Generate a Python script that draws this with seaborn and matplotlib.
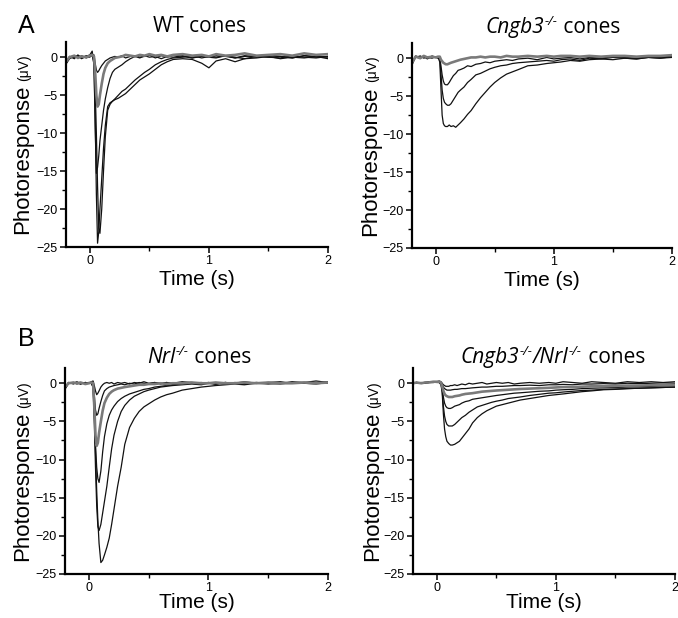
import numpy as np
import pandas as pd
import matplotlib
matplotlib.use("Agg")
import matplotlib.pyplot as plt
import matplotlib.transforms as mtransforms
from matplotlib.ticker import MultipleLocator
import seaborn as sns

# ---------------- data (time in s, photoresponse in µV) ----------------
t = [-0.2, -0.17, -0.13, -0.1, -0.07, -0.03, 0.0, 0.02,
     0.035, 0.045, 0.055, 0.065, 0.075, 0.085, 0.1, 0.115,
     0.13, 0.15, 0.17, 0.19, 0.21, 0.24, 0.27, 0.3,
     0.34, 0.38, 0.42, 0.46, 0.5, 0.55, 0.6, 0.65,
     0.7, 0.78, 0.86, 0.94, 1.0, 1.06, 1.14, 1.22,
     1.3, 1.4, 1.5, 1.6, 1.7, 1.8, 1.9, 2.0]

# WT cones
wt_1 = [-0.8, 0.1, -0.2, 0.3, -0.1, 0.2, 0.0, 0.4,
        0.3, -0.8, -1.7, -2.0, -1.8, -1.5, -1.1, -0.8,
        -0.5, -0.3, -0.1, 0.0, 0.1, 0.0, 0.2, -0.1,
        0.1, 0.2, 0.0, 0.1, 0.3, -0.1, 0.2, 0.0,
        0.3, 0.1, -0.1, 0.2, 0.0, 0.2, 0.1, -0.1,
        0.2, 0.0, 0.3, 0.1, -0.1, 0.2, 0.0, 0.1]
wt_2 = [-0.6, 0.0, 0.2, -0.1, 0.1, 0.0, 0.2, 0.3,
        0.1, -2.0, -5.0, -6.5, -6.2, -5.0, -3.5, -2.2,
        -1.4, -0.8, -0.5, -0.3, -0.1, 0.0, 0.1, 0.3,
        0.2, 0.1, 0.3, 0.2, 0.4, 0.2, 0.3, 0.1,
        0.3, 0.4, 0.2, 0.3, 0.1, 0.4, 0.2, 0.3,
        0.5, 0.2, 0.3, 0.4, 0.2, 0.5, 0.3, 0.4]
wt_3 = [-0.9, -0.2, 0.1, 0.2, -0.2, 0.1, 0.3, 0.8,
        -1.0, -9.0, -15.3, -14.5, -13.0, -11.0, -9.0, -7.0,
        -5.5, -4.0, -2.8, -2.0, -1.6, -1.3, -1.0, -0.6,
        -0.2, 0.1, -0.1, 0.2, 0.0, 0.1, -0.2, 0.1,
        0.0, 0.2, -0.1, 0.1, 0.0, -0.1, 0.2, 0.0,
        -0.2, 0.1, 0.0, -0.1, 0.2, 0.0, -0.1, 0.1]
wt_4 = [-0.7, 0.0, 0.2, -0.1, 0.2, -0.1, 0.1, 0.2,
        -0.5, -4.0, -10.0, -17.0, -22.5, -23.2, -20.0, -15.0,
        -10.5, -7.0, -6.2, -5.8, -5.5, -5.0, -4.5, -4.2,
        -3.6, -3.0, -2.5, -2.0, -1.6, -1.0, -0.6, -0.3,
        -0.1, 0.0, 0.2, -0.1, 0.1, 0.0, 0.2, -0.1,
        0.1, 0.2, 0.0, 0.1, -0.1, 0.2, 0.1, 0.0]
wt_5 = [-0.9, 0.1, -0.1, 0.2, 0.0, 0.1, 0.2, 0.5,
        -1.0, -8.0, -18.0, -24.5, -23.0, -20.0, -16.0, -12.0,
        -9.0, -6.5, -6.0, -5.8, -5.6, -5.4, -5.1, -4.8,
        -4.2, -3.6, -3.0, -2.6, -2.2, -1.6, -1.0, -0.6,
        -0.3, -0.2, -0.3, -0.8, -1.4, -0.5, -0.2, -0.6,
        -0.2, -0.1, 0.1, -0.2, 0.0, -0.1, 0.1, -0.2]

# Cngb3-/- cones
cn_1 = [-0.6, 0.2, 0.0, 0.3, 0.1, 0.2, 0.1, 0.2,
        0.2, -0.2, -0.4, -0.6, -0.7, -0.8, -0.8, -0.7,
        -0.6, -0.5, -0.4, -0.3, -0.2, -0.1, 0.0, 0.1,
        0.1, 0.2, 0.1, 0.2, 0.2, 0.1, 0.3, 0.2,
        0.2, 0.3, 0.2, 0.3, 0.2, 0.3, 0.3, 0.2,
        0.3, 0.2, 0.3, 0.3, 0.2, 0.3, 0.3, 0.4]
cn_2 = [-0.8, 0.3, 0.1, 0.2, -0.1, 0.3, 0.1, 0.0,
        0.0, -1.0, -2.2, -3.0, -3.4, -3.5, -3.5, -3.2,
        -2.8, -2.3, -2.0, -1.6, -1.5, -1.3, -1.0, -1.1,
        -0.8, -0.7, -0.5, -0.6, -0.4, -0.3, -0.2, -0.3,
        -0.1, 0.0, -0.2, 0.1, -0.1, 0.0, 0.1, -0.1,
        0.1, 0.0, 0.2, 0.1, 0.0, 0.2, 0.1, 0.3]
cn_3 = [-0.7, 0.1, 0.3, 0.0, 0.2, 0.1, 0.2, 0.1,
        0.0, -2.0, -4.2, -5.3, -5.8, -6.0, -6.2, -6.2,
        -6.0, -5.5, -5.0, -4.5, -4.2, -3.8, -3.2, -2.8,
        -2.2, -2.0, -1.7, -1.4, -1.2, -1.0, -0.9, -0.7,
        -0.6, -0.5, -0.4, -0.3, -0.4, -0.2, -0.1, -0.3,
        0.0, -0.1, 0.1, 0.0, -0.1, 0.1, 0.0, 0.2]
cn_4 = [-0.9, 0.2, 0.0, 0.3, 0.1, 0.0, 0.2, 0.1,
        -0.5, -4.0, -7.5, -8.6, -8.9, -9.0, -9.0, -8.8,
        -9.0, -8.9, -9.1, -8.8, -8.5, -8.0, -7.4, -6.9,
        -6.0, -5.2, -4.5, -3.8, -3.2, -2.6, -2.1, -1.8,
        -1.5, -1.0, -0.9, -0.7, -0.6, -0.5, -0.3, -0.4,
        -0.2, -0.1, -0.2, 0.0, -0.1, 0.1, 0.0, 0.1]

# Nrl-/- cones
nr_1 = [-0.6, 0.1, 0.0, 0.2, -0.1, 0.1, 0.0, 0.2,
        0.3, -0.3, -1.0, -1.5, -1.3, -1.0, -0.5, -0.2,
        0.0, 0.1, 0.0, 0.1, -0.1, 0.1, 0.0, 0.1,
        -0.1, 0.1, 0.0, 0.2, 0.0, 0.1, -0.1, 0.1,
        0.0, 0.2, 0.1, 0.0, 0.1, -0.1, 0.1, 0.0,
        0.2, 0.0, 0.1, 0.2, 0.0, 0.1, 0.3, 0.1]
nr_2 = [-0.7, 0.0, 0.1, -0.1, 0.1, 0.0, 0.1, 0.1,
        0.0, -1.5, -3.5, -4.2, -4.0, -3.3, -2.4, -1.6,
        -1.0, -0.7, -0.5, -0.4, -0.3, -0.2, -0.1, -0.2,
        0.0, -0.1, 0.1, 0.0, -0.1, 0.1, 0.0, 0.1,
        -0.1, 0.1, 0.0, 0.1, 0.0, -0.1, 0.1, 0.0,
        0.1, 0.0, 0.1, 0.0, 0.2, 0.1, 0.0, 0.2]
nr_3 = [-0.5, 0.0, 0.1, 0.0, 0.1, -0.1, 0.0, 0.1,
        0.0, -3.0, -6.8, -8.2, -7.8, -6.5, -5.0, -3.6,
        -2.6, -1.9, -1.4, -1.1, -0.9, -0.7, -0.6, -0.5,
        -0.4, -0.3, -0.2, -0.2, -0.1, -0.1, 0.0, -0.1,
        0.0, 0.0, 0.1, 0.0, 0.0, 0.1, 0.0, 0.0,
        0.1, 0.0, 0.1, 0.0, 0.0, 0.1, 0.0, 0.1]
nr_4 = [-0.6, 0.1, -0.1, 0.1, 0.0, 0.1, 0.0, 0.1,
        -0.2, -3.5, -8.0, -11.0, -12.5, -13.0, -11.5, -9.0,
        -7.0, -5.3, -4.2, -3.5, -3.0, -2.4, -2.0, -1.7,
        -1.4, -1.2, -1.0, -0.8, -0.7, -0.5, -0.4, -0.3,
        -0.2, -0.1, 0.0, -0.1, 0.1, 0.0, -0.1, 0.1,
        0.0, 0.1, 0.0, -0.1, 0.1, 0.0, 0.1, 0.0]
nr_5 = [-0.7, 0.0, 0.1, 0.0, -0.1, 0.1, 0.0, 0.0,
        -0.5, -5.0, -11.0, -16.0, -18.8, -19.3, -18.5, -17.0,
        -15.5, -13.5, -11.0, -8.6, -6.8, -5.0, -3.7, -2.9,
        -2.2, -1.7, -1.4, -1.1, -0.9, -0.7, -0.5, -0.4,
        -0.3, -0.2, -0.1, -0.2, 0.0, -0.1, 0.1, 0.0,
        -0.1, 0.1, 0.0, 0.1, 0.0, 0.1, 0.0, 0.1]
nr_6 = [-0.8, 0.1, 0.0, 0.1, 0.0, 0.0, 0.1, 0.0,
        -0.5, -4.0, -9.0, -14.0, -18.0, -21.0, -23.5, -23.2,
        -22.5, -21.5, -20.3, -18.5, -16.5, -13.5, -11.0, -8.0,
        -5.8, -4.6, -3.7, -3.1, -2.7, -2.2, -1.8, -1.5,
        -1.3, -0.9, -0.7, -0.5, -0.4, -0.3, -0.2, -0.1,
        -0.2, 0.0, -0.1, 0.0, 0.1, 0.0, -0.1, 0.1]

# Cngb3-/-/Nrl-/- cones
dk_1 = [0.0, 0.1, 0.0, 0.1, 0.2, 0.1, 0.2, 0.3,
        0.2, 0.0, -0.2, -0.3, -0.4, -0.4, -0.4, -0.3,
        -0.3, -0.2, -0.3, -0.2, -0.1, -0.2, 0.0, -0.1,
        0.0, 0.1, -0.1, 0.0, 0.1, 0.0, 0.1, -0.1,
        0.0, 0.1, 0.0, 0.1, 0.0, 0.2, 0.1, 0.0,
        0.2, 0.1, 0.0, 0.2, 0.1, 0.2, 0.1, 0.2]
dk_2 = [0.0, 0.1, 0.0, 0.0, 0.1, 0.1, 0.2, 0.2,
        0.1, -0.2, -0.5, -0.7, -0.8, -0.9, -0.9, -0.9,
        -0.85, -0.8, -0.8, -0.75, -0.7, -0.7, -0.65, -0.6,
        -0.55, -0.5, -0.5, -0.45, -0.4, -0.4, -0.35, -0.3,
        -0.3, -0.25, -0.3, -0.2, -0.2, -0.15, -0.2, -0.1,
        -0.1, -0.05, -0.1, 0.0, -0.05, 0.0, 0.05, 0.0]
dk_3 = [0.0, 0.1, 0.0, 0.1, 0.1, 0.2, 0.2, 0.2,
        0.1, -0.4, -1.0, -1.4, -1.6, -1.7, -1.8, -1.8,
        -1.8, -1.7, -1.65, -1.6, -1.5, -1.4, -1.35, -1.3,
        -1.2, -1.1, -1.05, -1.0, -0.95, -0.9, -0.85, -0.8,
        -0.75, -0.7, -0.65, -0.6, -0.55, -0.5, -0.5, -0.45,
        -0.4, -0.4, -0.35, -0.3, -0.3, -0.25, -0.2, -0.2]
dk_4 = [0.0, 0.0, 0.1, 0.0, 0.1, 0.2, 0.2, 0.1,
        0.0, -0.6, -1.8, -2.6, -3.0, -3.2, -3.3, -3.3,
        -3.2, -3.0, -2.9, -2.8, -2.6, -2.4, -2.3, -2.1,
        -2.0, -1.9, -1.8, -1.7, -1.6, -1.5, -1.4, -1.3,
        -1.25, -1.15, -1.05, -1.0, -0.9, -0.85, -0.8, -0.7,
        -0.65, -0.6, -0.55, -0.5, -0.45, -0.4, -0.35, -0.3]
dk_5 = [0.0, 0.1, 0.0, 0.1, 0.1, 0.2, 0.1, 0.1,
        0.0, -1.0, -3.0, -4.3, -5.0, -5.4, -5.6, -5.6,
        -5.6, -5.4, -5.1, -4.8, -4.5, -4.2, -3.8, -3.5,
        -3.1, -2.9, -2.7, -2.5, -2.35, -2.2, -2.0, -1.9,
        -1.8, -1.6, -1.45, -1.3, -1.25, -1.15, -1.05, -0.95,
        -0.9, -0.8, -0.75, -0.7, -0.65, -0.6, -0.55, -0.5]
dk_6 = [0.0, 0.1, 0.0, 0.1, 0.1, 0.2, 0.2, 0.1,
        -0.2, -1.2, -4.0, -6.0, -7.0, -7.6, -7.9, -8.1,
        -8.1, -8.0, -7.8, -7.6, -7.2, -6.6, -6.0, -5.2,
        -4.5, -4.0, -3.6, -3.3, -3.0, -2.8, -2.6, -2.4,
        -2.2, -2.0, -1.8, -1.6, -1.5, -1.4, -1.25, -1.1,
        -1.0, -0.85, -0.8, -0.7, -0.65, -0.6, -0.55, -0.5]

# title pieces: (text, italic?, superscript?)
panel_titles = [
    [("WT cones", False, False)],
    [("Cngb3", True, False), ("-/-", True, True), (" cones", False, False)],
    [("Nrl", True, False), ("-/-", True, True), (" cones", False, False)],
    [("Cngb3", True, False), ("-/-", True, True), ("/Nrl", True, False),
     ("-/-", True, True), (" cones", False, False)],
]
panel_traces = [
    {"wt_1": wt_1, "wt_2": wt_2, "wt_3": wt_3, "wt_4": wt_4, "wt_5": wt_5},
    {"cn_1": cn_1, "cn_2": cn_2, "cn_3": cn_3, "cn_4": cn_4},
    {"nr_1": nr_1, "nr_2": nr_2, "nr_3": nr_3, "nr_4": nr_4, "nr_5": nr_5, "nr_6": nr_6},
    {"dk_1": dk_1, "dk_2": dk_2, "dk_3": dk_3, "dk_4": dk_4, "dk_5": dk_5, "dk_6": dk_6},
]
gray_traces = {"wt_2", "cn_1", "nr_3", "dk_3"}
x_ticks = [0, 1, 2]
y_ticks = [-25, -20, -15, -10, -5, 0]

# ---------------- style ----------------
sns.set_theme(style="ticks")
plt.rcParams["font.family"] = ["Liberation Sans", "DejaVu Sans"]
plt.rcParams["text.color"] = "black"
plt.rcParams["axes.labelcolor"] = "black"
plt.rcParams["xtick.color"] = "black"
plt.rcParams["ytick.color"] = "black"

W, H = 678, 618
fig = plt.figure(figsize=(W / 100, H / 100), dpi=100)
ident = mtransforms.IdentityTransform()

# axes boxes in pixels: (left, top, right, bottom) for x in [-0.2, 2], y in [-25, 2]
boxes = [(66, 42, 328, 247), (412, 43, 672, 248),
         (65, 368, 328, 574), (413, 368, 675, 574)]
title_dx = [3, 11, 3, 9]
title_gap = [10, 10, 5, 5]
xlabel_gap = [38, 38, 34, 34]

for i, (l, tp, r, b) in enumerate(boxes):
    ax = fig.add_axes([l / W, 1 - b / H, (r - l) / W, (b - tp) / H])
    rows = []
    for name, vals in panel_traces[i].items():
        for tt, vv in zip(t, vals):
            rows.append({"t": tt, "v": vv, "trace": name})
    df = pd.DataFrame(rows)
    order = [n for n in panel_traces[i] if n not in gray_traces] + \
            [n for n in panel_traces[i] if n in gray_traces]
    for name in order:
        sub = df[df["trace"] == name]
        g = name in gray_traces
        sns.lineplot(data=sub, x="t", y="v", ax=ax, sort=False, estimator=None,
                     color="#7a7a7a" if g else "#111111",
                     linewidth=1.9 if g else 0.9, legend=False)
    ax.set_xlim(-0.2, 2)
    ax.set_ylim(-25, 2)
    ax.set_xticks(x_ticks)
    ax.set_yticks(y_ticks)
    ax.xaxis.set_minor_locator(MultipleLocator(0.5))
    ax.yaxis.set_minor_locator(MultipleLocator(2.5))
    ax.tick_params(which="major", direction="out", length=4, width=1.1,
                   labelsize=9, colors="black", pad=2)
    ax.tick_params(which="minor", direction="out", length=3, width=1.0,
                   colors="black")
    for s in ["top", "right"]:
        ax.spines[s].set_visible(False)
    for s in ["left", "bottom"]:
        ax.spines[s].set_linewidth(1.6)
        ax.spines[s].set_color("black")
    ax.set_xlabel("")
    ax.set_ylabel("")
    ax.set_facecolor("white")

    # x label
    ax.text((l + r) / 2, H - (b + xlabel_gap[i]), "Time (s)", transform=ident,
            ha="center", va="baseline", fontsize=15, color="black")

renderer = fig.canvas.get_renderer()

# titles built from pieces (italic gene names with superscripts)
for i, (l, tp, r, b) in enumerate(boxes):
    xc = (l + r) / 2 + title_dx[i]
    yb = H - (tp - title_gap[i])
    pieces = []
    x = 0.0
    for txt, it, sup in panel_titles[i]:
        size = 9.5 if sup else 15
        dy = 8 if sup else 0
        tx = fig.text(0, 0, txt, transform=ident, fontsize=size,
                      family="Open Sans", style="italic" if it else "normal",
                      ha="left", va="baseline", color="black")
        w = tx.get_window_extent(renderer).width
        pieces.append((tx, x, dy))
        x += w + (1 if sup else 0)
    x0 = xc - x / 2
    for tx, px, dy in pieces:
        tx.set_position((x0 + px, yb + dy))

# y labels: "Photoresponse" + smaller "(µV)"
label_x = [28, 376, 28, 378]
for i, (l, tp, r, b) in enumerate(boxes):
    t1 = fig.text(0, 0, "Photoresponse", rotation=90, rotation_mode="anchor",
                  ha="left", va="baseline", fontsize=16, transform=ident,
                  color="black")
    t2 = fig.text(0, 0, "(\u03bcV)", rotation=90, rotation_mode="anchor",
                  ha="left", va="baseline", fontsize=10, transform=ident,
                  color="black")
    L1 = t1.get_window_extent(renderer).height
    L2 = t2.get_window_extent(renderer).height
    gap = 4
    total = L1 + gap + L2
    yc = H - (tp + b) / 2
    y0 = yc - total / 2
    t1.set_position((label_x[i], y0))
    t2.set_position((label_x[i], y0 + L1 + gap))

fig.text(18 / W, 1 - 33 / H, "A", fontsize=18, ha="left", va="baseline",
         color="black")
fig.text(18 / W, 1 - 346 / H, "B", fontsize=18, ha="left", va="baseline",
         color="black")

fig.savefig("out.png", dpi=100, facecolor="white")
